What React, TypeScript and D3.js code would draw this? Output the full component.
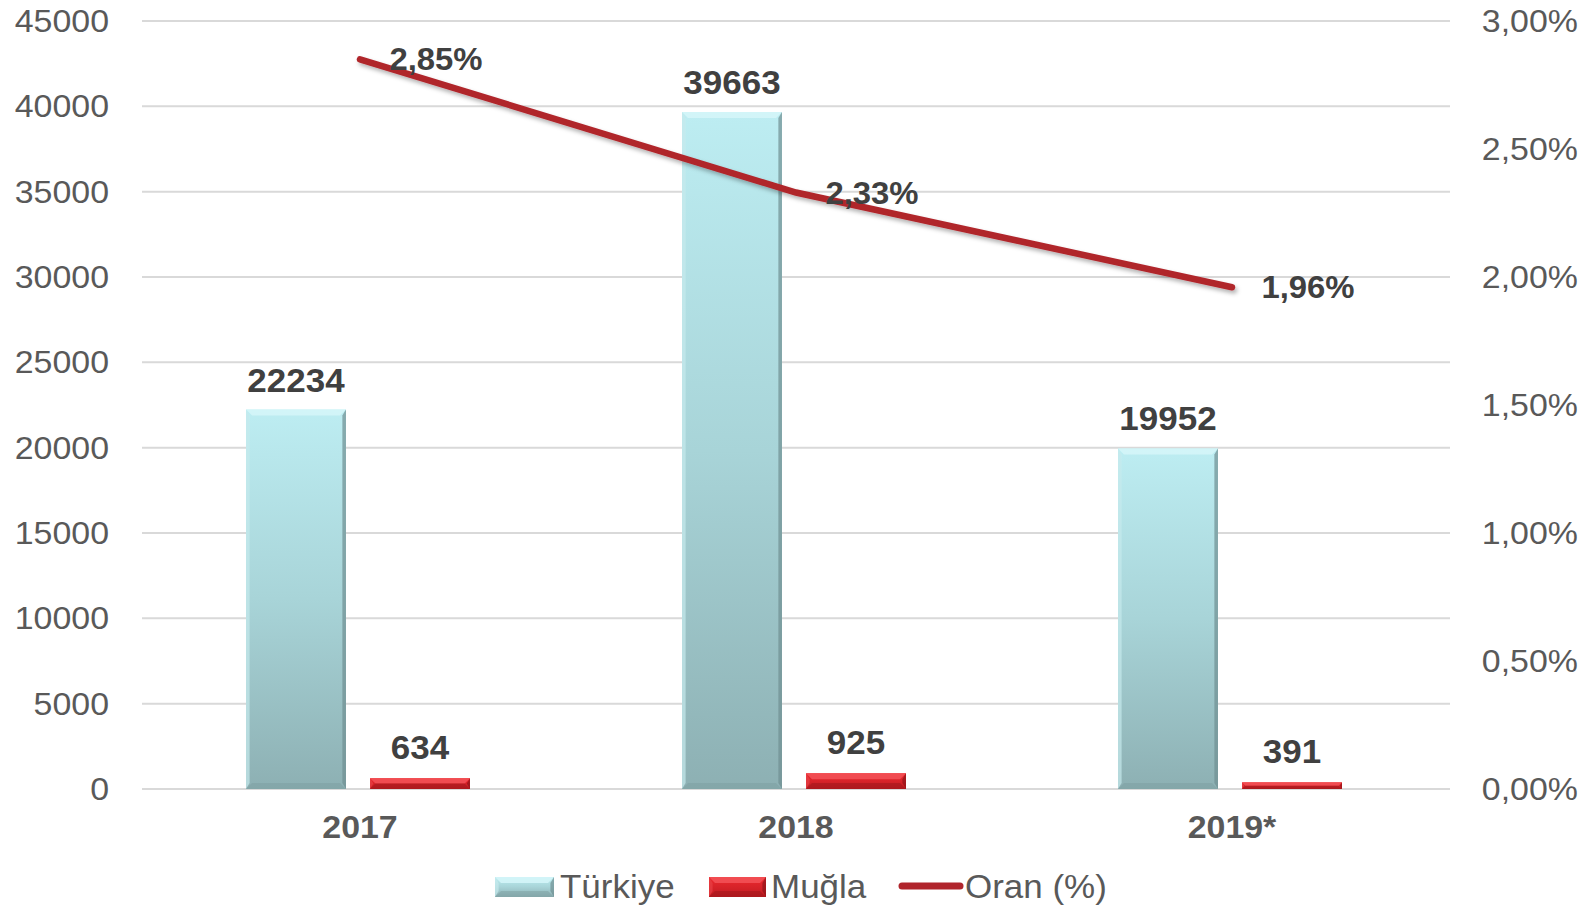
import React from "react";
import * as d3 from "d3";

const categories = ["2017", "2018", "2019*"];
const seriesNames = ["Türkiye", "Muğla"];
const turkiyeValues = [22234, 39663, 19952];
const muglaValues = [634, 925, 391];
const oranValues = [2.85, 2.33, 1.96];
const leftTicks = [0, 5000, 10000, 15000, 20000, 25000, 30000, 35000, 40000, 45000];
const rightTicks = [0, 0.5, 1, 1.5, 2, 2.5, 3];

const W = 1591;
const H = 909;
const plotLeft = 142;
const plotRight = 1450;
const plotTop = 21;
const plotBottom = 789;
const SX = 1.06;

const fmtPct = (v: number) => v.toFixed(2).replace(".", ",") + "%";

function T(props: { x: number; y: number; anchor?: string; size: number; bold?: boolean; fill?: string; children: any }) {
  const { x, y, anchor = "middle", size, bold, fill = "#595959", children } = props;
  return (
    <text
      transform={`translate(${x},${y}) scale(${SX},1)`}
      textAnchor={anchor}
      fontSize={size}
      fontWeight={bold ? "bold" : "normal"}
      fill={fill}
      fontFamily="Liberation Sans, Arial, sans-serif"
    >
      {children}
    </text>
  );
}

function BevelBar(props: { x: number; y: number; w: number; h: number; kind: "t" | "m" }) {
  const { x, y, w, h, kind } = props;
  const b = Math.min(6, h / 2);
  const grad = kind === "t" ? "url(#gT)" : "url(#gM)";
  const topC = kind === "t" ? "#d4f5f8" : "#f25055";
  const leftC = kind === "t" ? "#c6e9ec" : "#e84046";
  const rightC = kind === "t" ? "#6f8f92" : "#8e1418";
  const botC = kind === "t" ? "#7c9da0" : "#9a1519";
  return (
    <g>
      <rect x={x} y={y} width={w} height={h} fill={grad} />
      <polygon points={`${x},${y} ${x + w},${y} ${x + w - b},${y + b} ${x + b},${y + b}`} fill={topC} opacity={0.9} />
      <polygon points={`${x},${y} ${x + b * 0.6},${y + b} ${x + b * 0.6},${y + h - b} ${x},${y + h}`} fill={leftC} opacity={0.7} />
      <polygon points={`${x + w},${y} ${x + w - b * 0.6},${y + b} ${x + w - b * 0.6},${y + h - b} ${x + w},${y + h}`} fill={rightC} opacity={0.7} />
      <polygon points={`${x},${y + h} ${x + b},${y + h - b} ${x + w - b},${y + h - b} ${x + w},${y + h}`} fill={botC} opacity={0.5} />
    </g>
  );
}

export default function App() {
  const x0 = d3.scaleBand<string>().domain(categories).range([plotLeft, plotRight]).padding(0);
  const bw = x0.bandwidth();
  const x1 = d3
    .scaleBand<string>()
    .domain(seriesNames)
    .range([bw / 2 - 114, bw / 2 + 110])
    .paddingInner(0.194)
    .paddingOuter(0);
  const yL = d3.scaleLinear().domain([0, 45000]).range([plotBottom, plotTop]);
  const yR = d3.scaleLinear().domain([0, 3]).range([plotBottom, plotTop]);

  const lineGen = d3
    .line<number>()
    .x((_, i) => (x0(categories[i]) as number) + bw / 2)
    .y((d) => yR(d));

  const barW = x1.bandwidth();

  return (
    <svg width={W} height={H} style={{ position: "absolute", left: 0, top: 0, background: "#fff" }}>
      <defs>
        <linearGradient id="gT" x1="0" y1="0" x2="0" y2="1">
          <stop offset="0" stopColor="#bdedf2" />
          <stop offset="0.5" stopColor="#a8d4d8" />
          <stop offset="1" stopColor="#8db0b3" />
        </linearGradient>
        <linearGradient id="gM" x1="0" y1="0" x2="0" y2="1">
          <stop offset="0" stopColor="#ee2a30" />
          <stop offset="1" stopColor="#c01c22" />
        </linearGradient>
        <filter id="sh" x="-10%" y="-50%" width="120%" height="200%">
          <feDropShadow dx="2" dy="3" stdDeviation="2" floodColor="#000" floodOpacity="0.3" />
        </filter>
      </defs>

      {leftTicks.map((t) => (
        <line key={"g" + t} x1={plotLeft} x2={plotRight} y1={yL(t)} y2={yL(t)} stroke="#d9d9d9" strokeWidth={2} />
      ))}

      {leftTicks.map((t) => (
        <T key={"l" + t} x={109} y={yL(t) + 11} anchor="end" size={32}>
          {String(t)}
        </T>
      ))}
      {rightTicks.map((t) => (
        <T key={"r" + t} x={1578} y={yR(t) + 11} anchor="end" size={32}>
          {fmtPct(t)}
        </T>
      ))}

      {categories.map((c, i) => {
        const gx = x0(c) as number;
        const tx = gx + (x1("Türkiye") as number);
        const mx = gx + (x1("Muğla") as number);
        const ty = yL(turkiyeValues[i]);
        const my = yL(muglaValues[i]);
        return (
          <g key={c}>
            <BevelBar x={tx} y={ty} w={barW} h={plotBottom - ty} kind="t" />
            <BevelBar x={mx} y={my} w={barW} h={plotBottom - my} kind="m" />
            <T x={tx + barW / 2} y={ty - 18} size={33} bold fill="#404040">
              {String(turkiyeValues[i])}
            </T>
            <T x={mx + barW / 2} y={my - 19} size={33} bold fill="#404040">
              {String(muglaValues[i])}
            </T>
            <T x={gx + bw / 2} y={838} size={32} bold fill="#595959">
              {c}
            </T>
          </g>
        );
      })}

      <path d={lineGen(oranValues) || ""} fill="none" stroke="#b0252c" strokeWidth={6.5} strokeLinecap="round" filter="url(#sh)" />

      {oranValues.map((v, i) => (
        <T key={"p" + i} x={(x0(categories[i]) as number) + bw / 2 + 76} y={yR(v) + 11} size={31} bold fill="#404040">
          {fmtPct(v)}
        </T>
      ))}

      <g>
        <BevelBar x={495} y={877} w={59} h={20} kind="t" />
        <T x={560} y={898} anchor="start" size={33}>Türkiye</T>
        <BevelBar x={709} y={877} w={57} h={20} kind="m" />
        <T x={771} y={898} anchor="start" size={33}>Muğla</T>
        <line x1={902} x2={960} y1={886} y2={886} stroke="#b0252c" strokeWidth={7} strokeLinecap="round" />
        <T x={965} y={898} anchor="start" size={33}>Oran (%)</T>
      </g>
    </svg>
  );
}
